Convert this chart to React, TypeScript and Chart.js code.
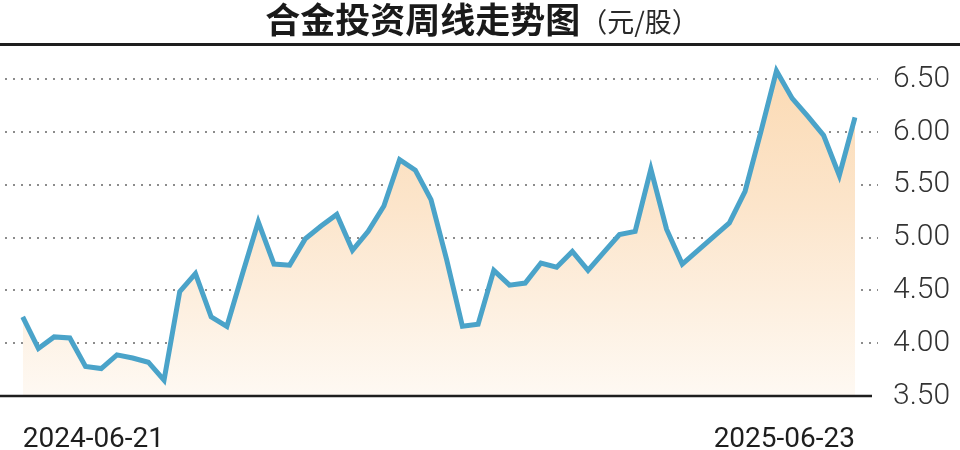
import React, { useEffect, useRef } from "react";
import { Chart, registerables } from "chart.js";

Chart.register(...registerables);

const titleMain = "合金投资周线走势图";
const titleUnit = "（元/股）";

const prices = [
  4.25, 3.95, 4.06, 4.05, 3.78, 3.76, 3.89, 3.86, 3.82, 3.65,
  4.49, 4.66, 4.25, 4.16, 4.66, 5.15, 4.75, 4.74, 4.99, 5.11,
  5.22, 4.88, 5.06, 5.3, 5.74, 5.64, 5.36, 4.79, 4.16, 4.18,
  4.69, 4.55, 4.57, 4.76, 4.72, 4.87, 4.69, 4.86, 5.03, 5.06,
  5.65, 5.08, 4.75, 4.88, 5.01, 5.14, 5.44, 6.0, 6.58, 6.32,
  6.15, 5.97, 5.59, 6.14,
];
const weeks = prices.map((_, i) => `第${i + 1}周`);
const xTickLabels = ["2024-06-21", "2025-06-23"];
const yTicks = [3.5, 4, 4.5, 5, 5.5, 6, 6.5];

export default function App() {
  const ref = useRef<HTMLCanvasElement>(null);

  useEffect(() => {
    document.body.style.margin = "0";
    const canvas = ref.current!;

    const decor = {
      id: "decor",
      beforeDatasetsDraw(chart: any) {
        const { ctx } = chart;
        const y = chart.scales.y;
        ctx.save();
        ctx.strokeStyle = "#8c8c8c";
        ctx.lineWidth = 2;
        ctx.setLineDash([2, 6]);
        yTicks.slice(1).forEach((v) => {
          const py = Math.round(y.getPixelForValue(v));
          ctx.beginPath();
          ctx.moveTo(5, py);
          ctx.lineTo(878, py);
          ctx.stroke();
        });
        ctx.restore();
      },
      afterDatasetsDraw(chart: any) {
        const { ctx } = chart;
        const y = chart.scales.y;
        const py = y.getPixelForValue(yTicks[0]);
        ctx.save();
        ctx.strokeStyle = "#1e1e1e";
        ctx.lineWidth = 2.5;
        ctx.beginPath();
        ctx.moveTo(0, py);
        ctx.lineTo(872, py);
        ctx.stroke();
        ctx.restore();
      },
      afterDraw(chart: any) {
        const { ctx } = chart;
        ctx.save();
        const mainFont = "bold 35px 'Noto Sans CJK SC', sans-serif";
        const unitFont = "27px 'Noto Sans CJK SC', sans-serif";
        ctx.font = mainFont;
        const w1 = ctx.measureText(titleMain).width;
        ctx.font = unitFont;
        const w2 = ctx.measureText(titleUnit).width;
        const x0 = 482 - (w1 + w2) / 2;
        ctx.textBaseline = "middle";
        ctx.textAlign = "left";
        ctx.fillStyle = "#1a1a1a";
        ctx.font = mainFont;
        ctx.fillText(titleMain, x0, 20);
        ctx.font = unitFont;
        ctx.fillStyle = "#2a2a2a";
        ctx.fillText(titleUnit, x0 + w1, 22);
        ctx.strokeStyle = "#1e1e1e";
        ctx.lineWidth = 3;
        ctx.beginPath();
        ctx.moveTo(0, 44.5);
        ctx.lineTo(960, 44.5);
        ctx.stroke();
        ctx.restore();
      },
    };

    const chart = new Chart(canvas, {
      type: "line",
      data: {
        labels: weeks,
        datasets: [
          {
            data: prices,
            borderColor: "#4aa3c9",
            borderWidth: 5,
            pointRadius: 0,
            tension: 0,
            fill: "start",
            backgroundColor: (c: any) => {
              const area = c.chart.chartArea;
              if (!area) return "rgba(251,221,185,0.6)";
              const g = c.chart.ctx.createLinearGradient(0, area.top, 0, area.bottom);
              g.addColorStop(0, "#fbd9b1");
              g.addColorStop(0.45, "#fce5cb");
              g.addColorStop(1, "#fef9f3");
              return g;
            },
          },
        ],
      },
      options: {
        responsive: false,
        animation: false,
        layout: { padding: { left: 22.7, top: 53, right: 0, bottom: 0 } },
        plugins: { legend: { display: false }, tooltip: { enabled: false }, title: { display: false } },
        scales: {
          x: {
            grid: { display: false },
            border: { display: false },
            afterFit: (s: any) => {
              s.height = 54;
            },
            ticks: {
              autoSkip: false,
              maxRotation: 0,
              minRotation: 0,
              align: "inner",
              padding: 19,
              color: "#1e1e1e",
              font: { family: "'Roboto', sans-serif", size: 28 },
              callback: (_v: any, i: number) =>
                i === 0 ? xTickLabels[0] : i === prices.length - 1 ? xTickLabels[1] : "",
            },
          },
          y: {
            position: "right",
            min: 3.5,
            max: 6.75,
            grid: { display: false },
            border: { display: false },
            afterFit: (s: any) => {
              s.width = 105;
            },
            afterBuildTicks: (s: any) => {
              s.ticks = yTicks.map((v) => ({ value: v }));
            },
            ticks: {
              padding: 30,
              color: "#333333",
              font: { family: "'Roboto', 'Liberation Sans', sans-serif", size: 30, weight: "300" },
              callback: (v: any) => Number(v).toFixed(2),
            },
          },
        },
      },
      plugins: [decor],
    } as any);

    return () => chart.destroy();
  }, []);

  return <canvas ref={ref} width={960} height={450} style={{ display: "block" }} />;
}
